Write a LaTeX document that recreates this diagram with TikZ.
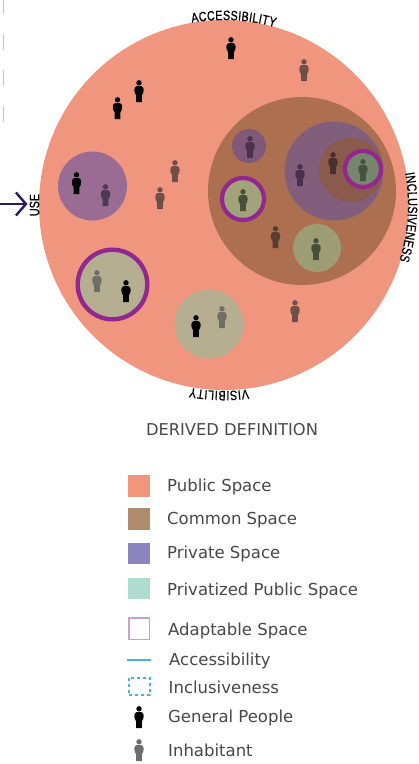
\documentclass[tikz,border=0pt]{standalone}
\usepackage{fontspec}
\setmainfont{DejaVu Sans}
\newfontfamily\arcfont[FakeStretch=0.8,FakeBold=0.6]{Liberation Sans}
\usetikzlibrary{arrows.meta,decorations.text}
\definecolor{salmon}{HTML}{F0967F}
\definecolor{brownC}{HTML}{AC6F4F}
\definecolor{purpleL}{HTML}{9A6C93}
\definecolor{purpleS}{HTML}{80597A}
\definecolor{purpleB}{HTML}{825E7D}
\definecolor{brownI}{HTML}{8A5A4C}
\definecolor{greenB}{HTML}{9D9C75}
\definecolor{greenA}{HTML}{A2A27B}
\definecolor{greenI}{HTML}{77876E}
\definecolor{beige}{HTML}{B5AE91}
\definecolor{ring}{HTML}{92278F}
\definecolor{navy}{HTML}{2A1A60}
\definecolor{legtext}{HTML}{484848}
\definecolor{skyb}{HTML}{45B2E8}
\definecolor{ps}{HTML}{6F5048}
\definecolor{legpub}{HTML}{F1957B}
\definecolor{legcom}{HTML}{AF8C6C}
\definecolor{legpri}{HTML}{8C86BF}
\definecolor{legppr}{HTML}{AEDDCF}
\definecolor{legada}{HTML}{C9A0CC}
\definecolor{leginh}{HTML}{6E6E6E}
\tikzset{
  x=1pt,y=-1pt,
  person/.pic={
    \fill[pic actions] (0,-8.2) circle[radius=2.7pt];
    \fill[pic actions] (-2.2,-5) .. controls (-4,-4.6) and (-4.7,-3) .. (-4.7,-1)
      .. controls (-4.7,1.5) and (-3.8,3) .. (-3,4) -- (-2.8,11) -- (2.8,11) -- (3,4)
      .. controls (3.8,3) and (4.7,1.5) .. (4.7,-1)
      .. controls (4.7,-3) and (4,-4.6) .. (2.2,-5) -- cycle;
  },
  legtxt/.style={anchor=west,text=legtext,font=\fontsize{16.5}{18}\selectfont,inner sep=0pt},
  arclabel/.style={decorate,decoration={text along path,text align=fit to path,text color=black}},
}
\begin{document}
\begin{tikzpicture}
\useasboundingbox (0,0) rectangle (419,764);
\fill[white] (0,0) rectangle (419,764);
% faint dashes
\draw[black!22,line width=1pt,dash pattern=on 16pt off 20pt] (3.5,-2) -- (3.5,122);
% circles
\fill[salmon] (224,205) circle[radius=185pt];
\fill[brownC] (302,191) circle[radius=94pt];
\fill[purpleB] (334,171) circle[radius=49.5pt];
\fill[brownI] (351,170) circle[radius=32pt];
\fill[purpleS] (249,146) circle[radius=17pt];
\fill[greenB] (317,248) circle[radius=24pt];
\fill[purpleL] (92.5,186) circle[radius=34.5pt];
\fill[beige] (209,324) circle[radius=34.5pt];
\draw[ring,line width=4.2pt,fill=greenI] (363,169) circle[radius=18pt];
\draw[ring,line width=4.2pt,fill=greenA] (243,199) circle[radius=21pt];
\draw[ring,line width=4.4pt,fill=beige] (112.5,284.5) circle[radius=34.8pt];
% general people
\foreach \px/\py in {139/91,117.5/108,231/48,76.5/183,126/291,196/326}
  {\pic[fill=black] at (\px,\py) {person};}
% inhabitants
\foreach \px/\py in {304/70,175/171,160/198,295/311}
  {\pic[fill=ps] at (\px,\py) {person};}
\pic[fill={rgb,255:red,74;green,58;blue,85}] at (105.5,195) {person};
\pic[fill={rgb,255:red,74;green,50;blue,72}] at (250,147) {person};
\pic[fill={rgb,255:red,70;green,50;blue,80}] at (300,175) {person};
\pic[fill={rgb,255:red,72;green,46;blue,44}] at (333,163) {person};
\pic[fill={rgb,255:red,70;green,82;blue,66}] at (363,170) {person};
\pic[fill={rgb,255:red,72;green,78;blue,58}] at (243,200) {person};
\pic[fill={rgb,255:red,88;green,62;blue,50}] at (275.5,237) {person};
\pic[fill={rgb,255:red,72;green,78;blue,58}] at (316,249) {person};
\pic[fill={rgb,255:red,110;green,110;blue,100}] at (97,281) {person};
\pic[fill={rgb,255:red,110;green,110;blue,100}] at (222,317) {person};
% labels on the circle
\path[arclabel,decoration={text={|\arcfont\fontsize{13.5}{15}\selectfont|ACCESSIBILITY}}]
  plot[domain=-100:-74,samples=30] ({224+185*cos(\x)},{205+185*sin(\x)});
\path[arclabel,decoration={text={|\arcfont\fontsize{13.5}{15}\selectfont|INCLUSIVENESS}}]
  plot[domain=-10:17.6,samples=30] ({224+184*cos(\x)},{205+184*sin(\x)});
\path[arclabel,decoration={text={|\arcfont\fontsize{13.5}{15}\selectfont|VISIBILITY}}]
  plot[domain=82.5:100.5,samples=30] ({224+186*cos(\x)},{205+186*sin(\x)});
\node[rotate=90,font=\arcfont\fontsize{13.5}{15}\selectfont,text=black,inner sep=2pt] (use) at (34.5,205) {USE};
\coordinate (usefrom) at (0,204);
\coordinate (usetip) at (use.north |- usefrom);
\draw[navy,line width=2.4pt,-{Straight Barb[length=10pt,width=23pt]}] (usefrom) -- (usetip);
% title
\node[text=legtext,font=\fontsize{16.3}{18}\selectfont,inner sep=0pt] (title) at (232,430) {DERIVED DEFINITION};
% legend
\fill[legpub] (128,475) rectangle (150,497);
\fill[legcom] (128,508) rectangle (150,530);
\fill[legpri] (128,543) rectangle (150,564);
\fill[legppr] (128,578) rectangle (150,599);
\draw[legada,line width=1.5pt] (129,618) rectangle (149.5,639.5);
\coordinate (lineA) at (127,660);
\coordinate (lineB) at (151,660);
\draw[skyb,line width=1.3pt] (lineA) -- (lineB);
\draw[skyb,line width=2pt,dash pattern=on 3pt off 3pt] (128.5,677.5) rectangle (149.5,695);
\pic[fill=black] at (139,717) {person};
\pic[fill=leginh] at (139,750) {person};
\node[legtxt] (l1) at (167,486.5) {Public Space};
\node[legtxt] (l2) at (167,520.5) {Common Space};
\node[legtxt] (l3) at (167,554) {Private Space};
\node[legtxt] (l4) at (167,590.5) {Privatized Public Space};
\node[legtxt] (l5) at (168,630.5) {Adaptable Space};
\node[legtxt] (l6) at (169,660.5) {Accessibility};
\node[legtxt] (l7) at (168.5,687.5) {Inclusiveness};
\node[legtxt] (l8) at (168,717.5) {General People};
\node[legtxt] (l9) at (168,750.5) {Inhabitant};
\end{tikzpicture}
\end{document}
